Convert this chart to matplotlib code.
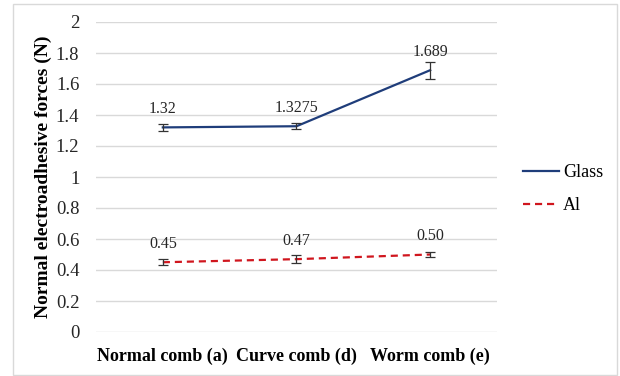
import matplotlib
matplotlib.use("Agg")
import matplotlib.pyplot as plt
from matplotlib.patches import Rectangle

plt.rcParams['font.family'] = ['Liberation Serif', 'DejaVu Serif']

categories = ["Normal comb (a)", "Curve comb (d)", "Worm comb (e)"]
glass = [1.32, 1.3275, 1.689]
glass_err = [0.02, 0.02, 0.055]
glass_labels = ["1.32", "1.3275", "1.689"]
al = [0.45, 0.47, 0.50]
al_err = [0.018, 0.026, 0.015]
al_labels = ["0.45", "0.47", "0.50"]
y_ticks = [0, 0.2, 0.4, 0.6, 0.8, 1, 1.2, 1.4, 1.6, 1.8, 2]
y_tick_labels = ["0", "0.2", "0.4", "0.6", "0.8", "1", "1.2", "1.4", "1.6", "1.8", "2"]

W, H = 620, 376
fig = plt.figure(figsize=(W / 100, H / 100), dpi=100)
fig.patch.set_facecolor("white")

# outer chart frame
fig.patches.append(Rectangle((13 / W, 1.5 / H), 604 / W, 371 / H,
                             transform=fig.transFigure, fill=False,
                             edgecolor="#d9d9d9", linewidth=1.0))

ax = fig.add_axes([96 / W, 44 / H, 401 / W, 310 / H])
x = [i + 0.5 for i in range(len(categories))]

ax.set_xlim(0, 3)
ax.set_ylim(0, 2)
ax.set_yticks(y_ticks)
ax.set_yticklabels(y_tick_labels)
ax.set_xticks(x)
ax.set_xticklabels(categories, fontweight="bold")
ax.tick_params(axis="y", length=0, pad=12, labelsize=13.5, labelcolor="#262626")
ax.tick_params(axis="x", length=0, pad=11, labelsize=13)
ax.grid(axis="y", color="#d9d9d9", linewidth=1.0)
ax.set_axisbelow(True)
for s in ax.spines.values():
    s.set_visible(False)

ax.set_ylabel("Normal electroadhesive forces (N)", fontweight="bold", fontsize=14, labelpad=3)

glass_color = "#1f3d7a"
al_color = "#d0161e"

ax.plot(x, glass, color=glass_color, linewidth=1.6, label="Glass")
ax.plot(x, al, color=al_color, linewidth=1.6, linestyle=(0, (3.2, 2.2)), label="Al")
ax.errorbar(x, glass, yerr=glass_err, fmt="none", ecolor="#333333", elinewidth=0.9, capsize=3.5, capthick=0.9)
ax.errorbar(x, al, yerr=al_err, fmt="none", ecolor="#333333", elinewidth=0.9, capsize=3.5, capthick=0.9)

for xi, yi, t in zip(x, glass, glass_labels):
    ax.annotate(t, (xi, yi), xytext=(0, 10.5), textcoords="offset points",
                ha="center", va="baseline", fontsize=11.5, color="#262626")
for xi, yi, t in zip(x, al, al_labels):
    ax.annotate(t, (xi, yi), xytext=(0, 10.5), textcoords="offset points",
                ha="center", va="baseline", fontsize=11.5, color="#262626")

fig.legend(loc="center left", bbox_to_anchor=(507 / W, (H - 189) / H), frameon=False,
           fontsize=13, handlelength=2.0, handletextpad=0.2, labelspacing=0.9)

fig.savefig("out.png", dpi=100, facecolor="white")
